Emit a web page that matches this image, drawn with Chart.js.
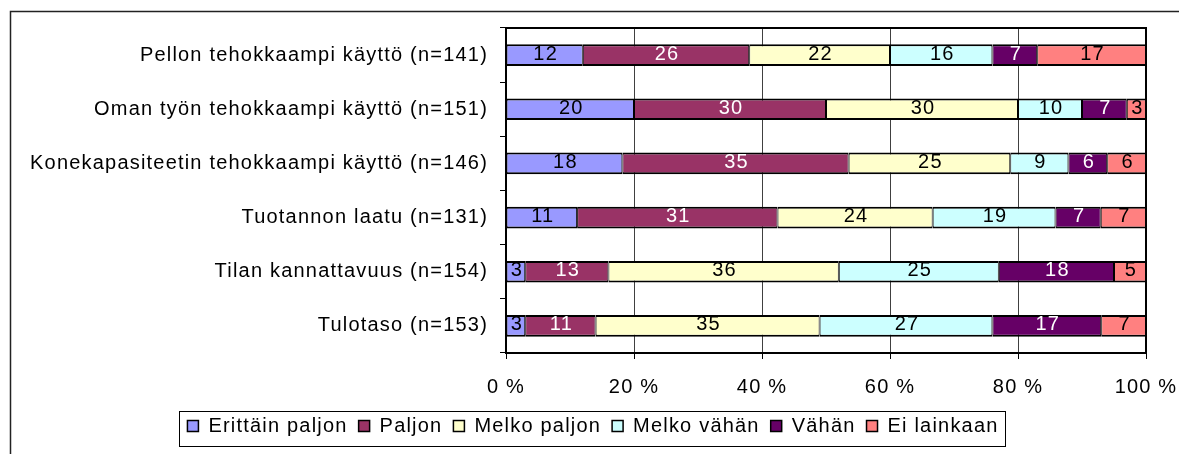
<!DOCTYPE html>
<html>
<head>
<meta charset="utf-8">
<script src="https://cdn.jsdelivr.net/npm/chart.js@4/dist/chart.umd.min.js"></script>
<style>
  body { margin: 0; background: #fff; }
</style>
</head>
<body>
<canvas id="chart" width="1179" height="454"></canvas>
<script>
var categories = [
  "Pellon tehokkaampi käyttö (n=141)",
  "Oman työn tehokkaampi käyttö (n=151)",
  "Konekapasiteetin tehokkaampi käyttö (n=146)",
  "Tuotannon laatu (n=131)",
  "Tilan kannattavuus (n=154)",
  "Tulotaso (n=153)"
];
var seriesNames = ["Erittäin paljon", "Paljon", "Melko paljon", "Melko vähän", "Vähän", "Ei lainkaan"];

// percentages shown in the bars
var erittainPaljon = [12, 20, 18, 11, 3, 3];
var paljon         = [26, 30, 35, 31, 13, 11];
var melkoPaljon    = [22, 30, 25, 24, 36, 35];
var melkoVahan     = [16, 10, 9, 19, 25, 27];
var vahan          = [7, 7, 6, 7, 18, 17];
var eiLainkaan     = [17, 3, 6, 7, 5, 7];

var xTicks = [0, 20, 40, 60, 80, 100];

var series = [erittainPaljon, paljon, melkoPaljon, melkoVahan, vahan, eiLainkaan];
var colors = ["#9999FF", "#993366", "#FFFFCC", "#CCFFFF", "#660066", "#FF8080"];
var labelColors = ["#000", "#fff", "#000", "#000", "#fff", "#000"];

// each row is drawn as 100 %
function rowTotals(){
  var totals = [];
  for(var j = 0; j < categories.length; j++){
    var s = 0;
    for(var i = 0; i < series.length; i++) s += series[i][j];
    totals.push(s);
  }
  return totals;
}

var totals = rowTotals();
var datasets = series.map(function(values, i){
  return {
    label: seriesNames[i],
    data: values.map(function(v, j){ return v / totals[j] * 100; }),
    raw: values,
    backgroundColor: colors[i],
    borderColor: "#000",
    borderWidth: {top: 2, bottom: 2, left: 1, right: 1},
    borderSkipped: false,
    barPercentage: 0.4,
    categoryPercentage: 1.0
  };
});

var spacingPlugin = {
  id: "spacing",
  beforeLayout: function(chart){ chart.ctx.letterSpacing = "1.2px"; },
  beforeDraw: function(chart){
    var ctx = chart.ctx;
    ctx.letterSpacing = "1.2px";
    // outer chart frame
    ctx.save();
    ctx.strokeStyle = "#222";
    ctx.lineWidth = 1.5;
    ctx.strokeRect(10.5, 11.5, 1300, 600);
    ctx.restore();
  }
};

var frameAndLabels = {
  id: "frameAndLabels",
  afterDatasetsDraw: function(chart){
    var ctx = chart.ctx;
    var a = chart.chartArea;
    ctx.save();
    ctx.strokeStyle = "#000";
    ctx.lineWidth = 2;
    ctx.strokeRect(a.left, a.top, a.right - a.left, a.bottom - a.top);
    ctx.font = "20px 'Liberation Sans', Arial, sans-serif";
    ctx.textAlign = "center";
    ctx.textBaseline = "middle";
    chart.data.datasets.forEach(function(ds, i){
      var meta = chart.getDatasetMeta(i);
      ctx.fillStyle = labelColors[i];
      meta.data.forEach(function(bar, j){
        var p = bar.getProps(["x", "y", "base"], true);
        ctx.fillText(String(ds.raw[j]), (p.x + p.base) / 2 + 1, p.y - 1);
      });
    });
    ctx.restore();
  },
  afterDraw: function(chart){
    var boxes = chart.legend.legendHitBoxes;
    if(!boxes || !boxes.length) return;
    var first = boxes[0], last = boxes[boxes.length - 1];
    var ctx = chart.ctx;
    ctx.save();
    ctx.strokeStyle = "#000";
    ctx.lineWidth = 1;
    ctx.strokeRect(Math.round(first.left - 8) + 0.5, Math.round(first.top - 5) + 0.5,
      Math.round(last.left + last.width - first.left + 15), 35);
    ctx.restore();
  }
};

Chart.defaults.font.family = "'Liberation Sans', Arial, sans-serif";
Chart.defaults.font.size = 20;
Chart.defaults.color = "#000";

var chartConfig = {
  type: "bar",
  data: {
    labels: categories,
    datasets: datasets
  },
  options: {
    indexAxis: "y",
    responsive: false,
    animation: false,
    devicePixelRatio: 1,
    layout: {
      padding: {top: 28, right: 13, bottom: 8, left: 20}
    },
    scales: {
      x: {
        stacked: true,
        min: 0,
        max: 100,
        afterBuildTicks: function(scale){
          scale.ticks = xTicks.map(function(v){ return {value: v}; });
        },
        afterFit: function(scale){
          scale.height = 52;
          scale.paddingLeft = 0;
          scale.paddingRight = 33;
        },
        border: {display: false},
        grid: {
          color: "#404040",
          lineWidth: 1,
          tickColor: "#000",
          tickLength: 6
        },
        ticks: {
          padding: 16,
          maxRotation: 0,
          callback: function(v){ return v + " %"; }
        }
      },
      y: {
        stacked: true,
        offset: true,
        afterFit: function(scale){ scale.width = 486; },
        border: {display: false},
        grid: {
          offset: true,
          drawOnChartArea: false,
          tickColor: "#000",
          tickLength: 6
        },
        ticks: {
          padding: 12
        }
      }
    },
    plugins: {
      legend: {
        display: true,
        position: "bottom",
        labels: {
          boxWidth: 11,
          boxHeight: 11,
          padding: 11
        }
      },
      tooltip: {enabled: false}
    }
  },
  plugins: [spacingPlugin, frameAndLabels]
};

function createChart(){
  var ctx = document.getElementById("chart").getContext("2d");
  window.myChart = new Chart(ctx, chartConfig);
}

createChart();
</script>
</body>
</html>
